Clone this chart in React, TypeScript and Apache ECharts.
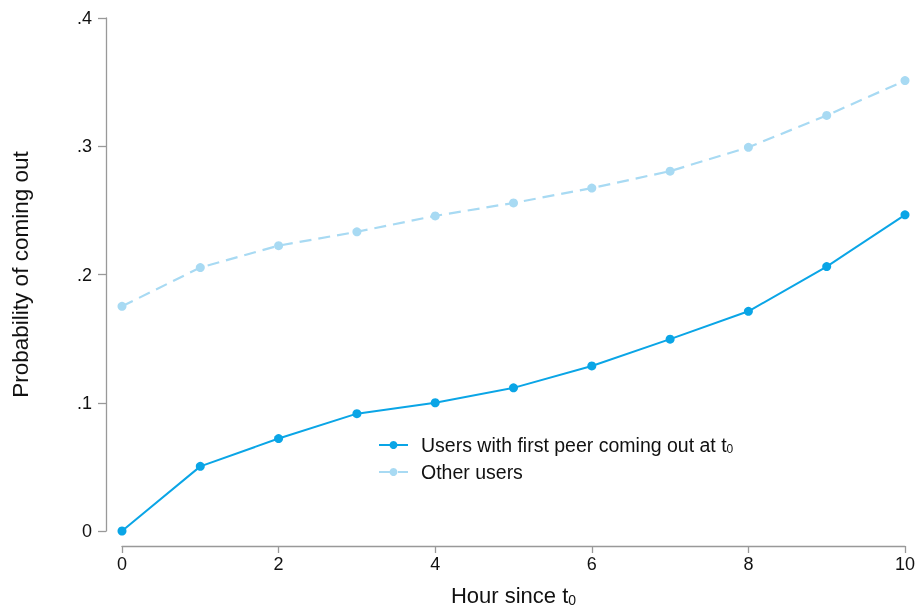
import React, { useEffect, useRef } from "react";
import * as echarts from "echarts";

const hours = [0, 1, 2, 3, 4, 5, 6, 7, 8, 9, 10];
const peerUsers = [0, 0.0504, 0.0721, 0.0915, 0.1, 0.1116, 0.1287, 0.1496, 0.1713, 0.2062, 0.2465];
const otherUsers = [0.1752, 0.2054, 0.2225, 0.2333, 0.2457, 0.2558, 0.2674, 0.2806, 0.2992, 0.324, 0.3512];
const yTicks = [0, 0.1, 0.2, 0.3, 0.4];
const seriesNames = ["Users with first peer coming out at t{sub|0}", "Other users"];

const FONT = "'Liberation Sans', Arial, sans-serif";
const BLUE = "#0aa5e6";
const LIGHT = "#a8daf3";

export default function App() {
  const ref = useRef<HTMLDivElement>(null);
  useEffect(() => {
    if (!ref.current) return;
    const chart = echarts.init(ref.current, undefined, { renderer: "svg" });
    const sub = { fontSize: 12, fontFamily: FONT, color: "#111", padding: [8, 0, 0, 0] };
    chart.setOption({
      animation: false,
      textStyle: { fontFamily: FONT },
      grid: { left: 122, right: 14, top: 18, bottom: 78 },
      legend: {
        orient: "vertical",
        left: 373,
        top: 430,
        itemWidth: 29,
        itemHeight: 10,
        itemGap: 7,
        data: [
          { name: seriesNames[0] },
          { name: seriesNames[1] },
        ],
        formatter: (n: string) => n,
        textStyle: {
          fontSize: 19.5,
          color: "#111",
          fontFamily: FONT,
          padding: [0, 0, 0, 8],
          rich: { sub },
        },
      },
      xAxis: {
        type: "value",
        min: 0,
        max: 10,
        interval: 2,
        offset: 15,
        name: "Hour since t{sub|0}",
        nameLocation: "middle",
        nameGap: 38,
        nameTextStyle: {
          fontSize: 22,
          color: "#111",
          fontFamily: FONT,
          rich: { sub: { ...sub, fontSize: 14, padding: [9, 0, 0, 0] } },
        },
        axisLine: { show: true, onZero: false, lineStyle: { color: "#999", width: 1.3 } },
        axisTick: { show: true, length: 7, lineStyle: { color: "#999", width: 1.3 } },
        axisLabel: { fontSize: 18, color: "#111", margin: 9 },
        splitLine: { show: false },
      },
      yAxis: {
        type: "value",
        min: 0,
        max: 0.4,
        interval: 0.1,
        offset: 16,
        name: "Probability of coming out",
        nameLocation: "middle",
        nameGap: 74,
        nameTextStyle: { fontSize: 22.5, color: "#111", fontFamily: FONT },
        axisLine: { show: true, onZero: false, lineStyle: { color: "#999", width: 1.3 } },
        axisTick: { show: true, length: 8, lineStyle: { color: "#999", width: 1.3 } },
        axisLabel: {
          fontSize: 18,
          color: "#111",
          margin: 14,
          formatter: (v: number) => {
            const t = yTicks.find((k) => Math.abs(k - v) < 1e-9);
            const val = t === undefined ? v : t;
            return val === 0 ? "0" : String(Number(val.toFixed(1))).replace(/^0/, "");
          },
        },
        splitLine: { show: false },
      },
      series: [
        {
          name: seriesNames[0],
          type: "line",
          data: hours.map((h, i) => [h, peerUsers[i]]),
          symbol: "circle",
          symbolSize: 9,
          itemStyle: { color: BLUE },
          lineStyle: { color: BLUE, width: 2 },
        },
        {
          name: seriesNames[1],
          type: "line",
          data: hours.map((h, i) => [h, otherUsers[i]]),
          symbol: "circle",
          symbolSize: 9,
          itemStyle: { color: LIGHT },
          lineStyle: { color: LIGHT, width: 2.2, type: [12, 7] },
        },
      ],
    });
    return () => chart.dispose();
  }, []);
  return <div ref={ref} style={{ width: 919, height: 612, position: "fixed", left: 0, top: 0 }} />;
}
